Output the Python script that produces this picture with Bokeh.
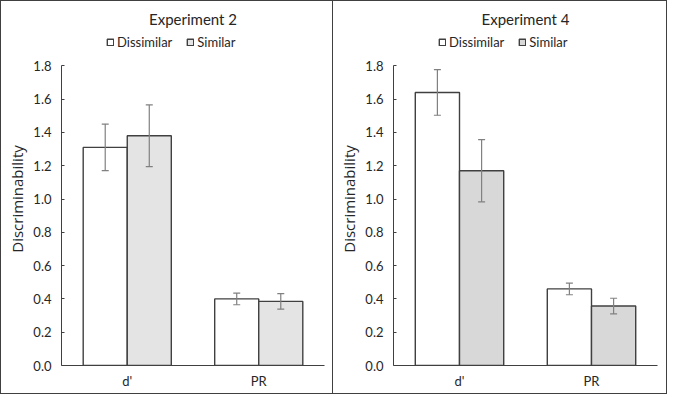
from bokeh.plotting import figure
from bokeh.models import (ColumnDataSource, FactorRange, Range1d, Whisker, Legend,
                          LegendItem, FixedTicker, PrintfTickFormatter, TeeHead)
from bokeh.transform import dodge
from bokeh.layouts import row
from bokeh.embed import file_html
from bokeh.resources import INLINE

measures = ["d'", "PR"]
series = ["Dissimilar", "Similar"]

exp2_dissimilar = [1.31, 0.40]
exp2_dissimilar_err = [0.14, 0.035]
exp2_similar = [1.38, 0.385]
exp2_similar_err = [0.185, 0.047]

exp4_dissimilar = [1.64, 0.46]
exp4_dissimilar_err = [0.137, 0.035]
exp4_similar = [1.17, 0.357]
exp4_similar_err = [0.187, 0.047]

y_ticks = [0.0, 0.2, 0.4, 0.6, 0.8, 1.0, 1.2, 1.4, 1.6, 1.8]

FONT = "Lato"
DARK = "#404040"
TEXT = "#262626"
ERR = "#808080"


def make_panel(title, dis, dis_err, sim, sim_err, sim_color, width, border_css):
    src = ColumnDataSource(dict(
        m=measures, dis=dis, sim=sim,
        dis_lo=[v - e for v, e in zip(dis, dis_err)],
        dis_hi=[v + e for v, e in zip(dis, dis_err)],
        sim_lo=[v - e for v, e in zip(sim, sim_err)],
        sim_hi=[v + e for v, e in zip(sim, sim_err)],
    ))
    p = figure(x_range=FactorRange(*measures), y_range=Range1d(0, 2.0),
               width=width, height=394, output_backend="svg", toolbar_location=None,
               min_border_left=60, min_border_right=10, min_border_bottom=30,
               min_border_top=31)
    p.title.text = title
    p.title.align = "center"
    p.title.text_font = FONT
    p.title.text_font_size = "15px"
    p.title.text_font_style = "normal"
    p.title.text_color = TEXT

    off = 0.1675
    bw = 0.335
    r1 = p.vbar(x=dodge("m", -off, range=p.x_range), top="dis", width=bw, source=src,
                fill_color="white", line_color=DARK, line_width=1.4)
    r2 = p.vbar(x=dodge("m", off, range=p.x_range), top="sim", width=bw, source=src,
                fill_color=sim_color, line_color=DARK, line_width=1.4)
    for base, lo, hi in [(-off, "dis_lo", "dis_hi"), (off, "sim_lo", "sim_hi")]:
        w = Whisker(base=dodge("m", base, range=p.x_range), lower=lo, upper=hi, source=src,
                    line_color=ERR, line_width=1.2, level="annotation",
                    upper_head=TeeHead(size=7, line_color=ERR, line_width=1.2),
                    lower_head=TeeHead(size=7, line_color=ERR, line_width=1.2))
        p.add_layout(w)

    legend = Legend(items=[LegendItem(label=series[0], renderers=[r1]),
                           LegendItem(label=series[1], renderers=[r2])],
                    orientation="horizontal", location=(45, 315),
                    glyph_width=8, glyph_height=8, label_standoff=3, spacing=14,
                    label_text_font=FONT, label_text_font_size="13px",
                    label_text_color=TEXT, padding=0, margin=0,
                    border_line_color=None, background_fill_alpha=0)
    p.add_layout(legend, "center")

    p.xgrid.visible = False
    p.ygrid.visible = False
    p.outline_line_color = None

    ya = p.yaxis[0]
    ya.bounds = (0, 1.8)
    ya.ticker = FixedTicker(ticks=y_ticks)
    ya.formatter = PrintfTickFormatter(format="%.1f")
    ya.major_tick_in = 3
    ya.major_tick_out = 0
    ya.minor_tick_line_color = None
    ya.axis_line_color = DARK
    ya.major_tick_line_color = DARK
    ya.major_label_text_font = FONT
    ya.major_label_text_font_size = "13px"
    ya.major_label_text_color = TEXT
    ya.major_label_standoff = 10
    ya.axis_label = "Discriminability"
    ya.axis_label_text_font = "Open Sans"
    ya.axis_label_text_font_size = "15px"
    ya.axis_label_text_font_style = "normal"
    ya.axis_label_text_color = TEXT
    ya.axis_label_standoff = 3

    xa = p.xaxis[0]
    xa.major_tick_in = 0
    xa.major_tick_out = 0
    xa.major_tick_line_color = None
    xa.minor_tick_line_color = None
    xa.axis_line_color = DARK
    xa.major_label_text_font = FONT
    xa.major_label_text_font_size = "13px"
    xa.major_label_text_color = TEXT
    xa.major_label_standoff = 7

    p.styles = border_css
    return p


p1 = make_panel("Experiment 2", exp2_dissimilar, exp2_dissimilar_err,
                exp2_similar, exp2_similar_err, "#e4e4e4", 333,
                {"border": "1px solid #404040"})
p2 = make_panel("Experiment 4", exp4_dissimilar, exp4_dissimilar_err,
                exp4_similar, exp4_similar_err, "#d8d8d8", 334,
                {"border-top": "1px solid #404040", "border-right": "1px solid #404040",
                 "border-bottom": "1px solid #404040"})

layout = row(p1, p2, spacing=0)
open("out.html", "w").write(file_html(layout, INLINE))
